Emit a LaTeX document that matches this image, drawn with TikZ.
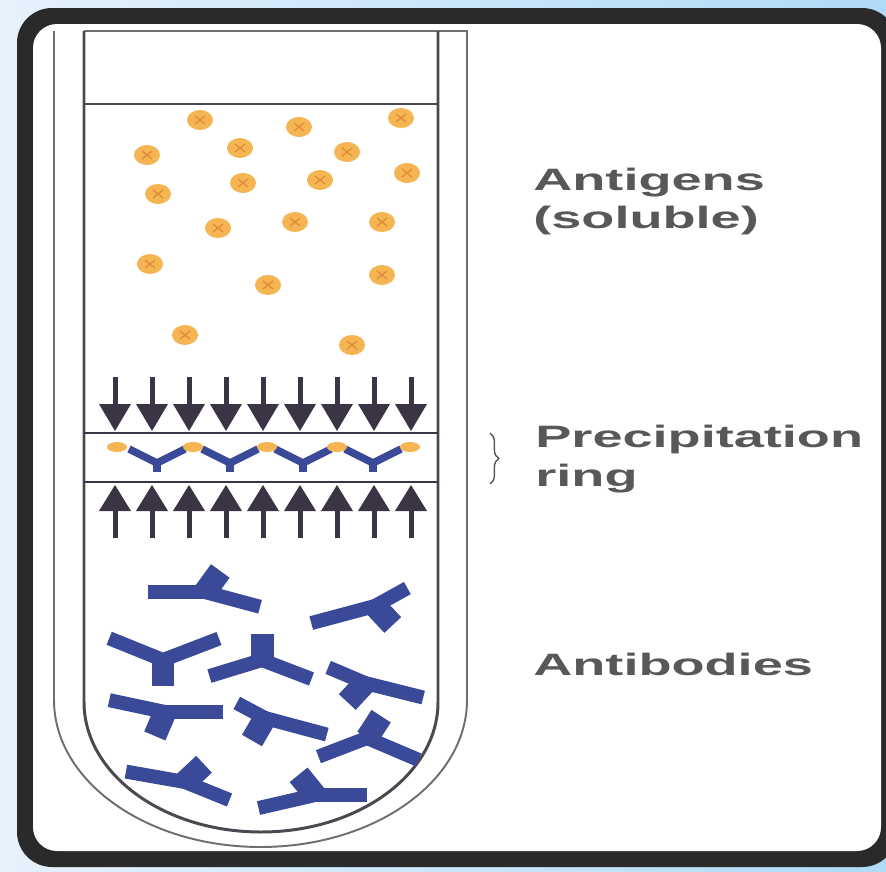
\documentclass[tikz,border=0pt]{standalone}
\usepackage{fontspec}
\usetikzlibrary{decorations.pathreplacing}

\newfontfamily\etiketfont[FakeStretch=1.75]{Liberation Sans}

\definecolor{ramme}{HTML}{2A2A2A}
\definecolor{bagV}{HTML}{E6F1FB}
\definecolor{bagH}{HTML}{AEDBF7}
\definecolor{glas}{HTML}{4C4852}
\definecolor{pil}{HTML}{3B3444}
\definecolor{antigen}{HTML}{F4B552}
\definecolor{antigenmork}{HTML}{E28C3A}
\definecolor{antistof}{HTML}{3A4A98}
\definecolor{tekst}{HTML}{585858}

\tikzset{
  vaeg/.style={glas,line width=1.7pt},
  ydervaeg/.style={glas!80,line width=1.1pt},
  etiket/.style={tekst,inner sep=0pt,anchor=base west,font=\etiketfont\bfseries\fontsize{17.6}{21}\selectfont},
}

% antigen-prik: #1,#2 centrum
\newcommand{\antigenprik}[2]{%
  \fill[antigen] (#1,#2) ellipse (13 and 10);
  \draw[antigenmork,line width=0.8pt] (#1-5,#2-4) -- (#1+5,#2+4) (#1-5,#2+4) -- (#1+5,#2-4);
}

\begin{document}
\begin{tikzpicture}[x=0.02cm,y=-0.02cm]
  %baggrund og ramme
	\useasboundingbox (0,0) rectangle (886,872);
	\clip (0,0) rectangle (886,872);
	\shade[left color=bagV,right color=bagH] (0,0) rectangle (886,872);
	\fill[ramme,rounded corners=0.7cm] (17,8) rectangle (897,867);
	\fill[white,rounded corners=0.48cm] (33,24) rectangle (881,851);

  %reagensglas, ydre og indre vaeg
	\draw[ydervaeg] (54,31) -- (54,700) arc[start angle=180,end angle=0,x radius=206.5,y radius=147] -- (467,31) -- (84,31);
	\draw[vaeg] (84,31) -- (84,702) arc[start angle=180,end angle=0,x radius=177,y radius=130] -- (438,31);
  %vaeskeoverflade
	\draw[vaeg] (84,104) -- (438,104);

  %antigener i oploesning
	\foreach \px/\py in {200/120,299/127,401/118,147/155,240/148,347/152,407/173,158/194,243/183,
	                     320/180,218/228,295/222,382/222,150/264,268/285,382/275,185/335,352/345}
		\antigenprik{\px}{\py};

  %pile ned mod ringen og op mod ringen
	\foreach \x in {115,152,...,411} {
		\draw[pil,line width=0.1cm] (\x,377) -- (\x,406);
		\fill[pil] (\x-16,404) -- (\x+16,404) -- (\x,431) -- cycle;
		\draw[pil,line width=0.1cm] (\x,509) -- (\x,538);
		\fill[pil] (\x-16,511) -- (\x+16,511) -- (\x,485) -- cycle;
	}
	\draw[pil,line width=1.3pt] (84,433) -- (438,433);
	\draw[pil,line width=1.3pt] (84,482) -- (438,482);

  %praecipitationsring
	\foreach \x in {157,230,303,373} {
		\draw[antistof,line width=0.15cm,line join=round] (\x-28,449) -- (\x,463) -- (\x+28,449);
		\draw[antistof,line width=0.16cm] (\x,462) -- (\x,472);
	}
	\foreach \x in {117,193,267,337,410}
		\fill[antigen] (\x,447) ellipse (10 and 5);

  %antistoffer: samlepunkt, stilk-vinkel, arm 1 (vinkel/laengde), arm 2 (vinkel/laengde)
	\foreach \px/\py/\stilk/\armA/\lA/\armB/\lB in {
		205/592/-54/180/57/15/57,   375/606/47/165/66/-29/37,
		163/660/90/202/58/-21/60,   262/660/-90/163/55/21/53,
		365/683/133/203/40/14/60,   165/712/113/192/57/0/58,
		265/718/120/208/32/15/64,   367/738/-57/159/52/23/56,
		185/782/-43/190/60/22/48,   315/795/-129/167/58/0/52} {
		\draw[antistof,line width=0.46cm] (\px,\py) -- ++(\stilk:26);
		\draw[antistof,line width=0.28cm] (\px,\py) -- ++(\armA:\lA);
		\draw[antistof,line width=0.28cm] (\px,\py) -- ++(\armB:\lB);
	}

  %tekster
	\node[etiket] (antigener) at (533,190) {Antigens};
	\node[etiket] (oploeselig) at (533,228) {(soluble)};
	\node[etiket] (praecipitation) at (535,447) {Precipitation};
	\node[etiket] (ring) at (535,486) {ring};
	\node[etiket] (antistoffer) at (533,675) {Antibodies};

  %klamme ved ringen
	\coordinate (ringtop) at (490,433);
	\coordinate (ringbund) at (490,484);
	\draw[tekst,line width=0.8pt,decorate,decoration={brace,amplitude=5pt}] (ringtop) -- (ringbund);
\end{tikzpicture}
\end{document}
